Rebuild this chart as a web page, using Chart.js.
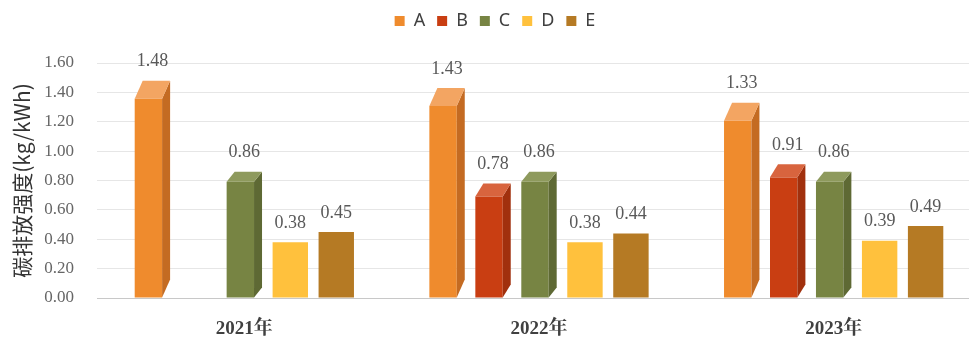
<!DOCTYPE html>
<html>
<head>
<meta charset="utf-8">
<script src="https://cdn.jsdelivr.net/npm/chart.js@4.4.1/dist/chart.umd.min.js"></script>
<style>
    html, body { margin: 0; padding: 0; background: #fff; }
    #wrap { width: 969px; height: 338px; overflow: hidden; position: relative; }
    #chart { position: absolute; left: 0; top: 0; }
</style>
</head>
<body>
<div id="wrap"><canvas id="chart" width="990" height="338"></canvas></div>
<script>
// data
const years = ['2021年', '2022年', '2023年'];
const seriesNames = ['A', 'B', 'C', 'D', 'E'];
const valuesA = [1.48, 1.43, 1.33];
const valuesB = [null, 0.78, 0.91];
const valuesC = [0.86, 0.86, 0.86];
const valuesD = [0.38, 0.38, 0.39];
const valuesE = [0.45, 0.44, 0.49];
const yTicks = [0, 0.2, 0.4, 0.6, 0.8, 1.0, 1.2, 1.4, 1.6];

// colours: front / top / side
const palette = [
    { front: '#EF8B2D', top: '#F3A562', side: '#C46B22' },
    { front: '#C93E12', top: '#D8643E', side: '#A1300D' },
    { front: '#778443', top: '#8E9A5D', side: '#5E6934' },
    { front: '#FFC13D', top: '#FFC13D', side: '#FFC13D' },
    { front: '#B57A24', top: '#B57A24', side: '#B57A24' },
];
// 3d depth per series (D and E are drawn flat)
const depth = [
    { dx: 8, dy: 18 },
    { dx: 8, dy: 13 },
    { dx: 8, dy: 10 },
    null,
    null,
];

const allValues = [valuesA, valuesB, valuesC, valuesD, valuesE];

// extra gap under the legend
const legendGap = {
    id: 'legendGap',
    beforeInit(chart) {
        const fit = chart.legend.fit;
        chart.legend.fit = function () {
            fit.bind(chart.legend)();
            this.height += 23;
        };
    }
};

const box3d = {
    id: 'box3d',
    beforeDatasetDraw(chart, args) {
        const d = depth[args.index];
        if (!d) return;
        const ctx = chart.ctx;
        const col = palette[args.index];
        args.meta.data.forEach((el, i) => {
            if (allValues[args.index][i] == null) return;
            const { x, y, base, width } = el.getProps(['x', 'y', 'base', 'width'], true);
            const left = x - width / 2;
            const right = left + width - d.dx;
            // front
            ctx.fillStyle = col.front;
            ctx.fillRect(left, y + d.dy, right - left, base - y - d.dy);
            // side
            ctx.fillStyle = col.side;
            ctx.beginPath();
            ctx.moveTo(right, base);
            ctx.lineTo(right + d.dx, base - d.dy);
            ctx.lineTo(right + d.dx, y);
            ctx.lineTo(right, y + d.dy);
            ctx.closePath();
            ctx.fill();
            // top
            ctx.fillStyle = col.top;
            ctx.beginPath();
            ctx.moveTo(left, y + d.dy);
            ctx.lineTo(left + d.dx, y);
            ctx.lineTo(right + d.dx, y);
            ctx.lineTo(right, y + d.dy);
            ctx.closePath();
            ctx.fill();
        });
        return false; // skip normal bar draw
    },
    afterDatasetsDraw(chart) {
        const ctx = chart.ctx;
        ctx.save();
        ctx.font = '18px "Liberation Serif", "Times New Roman", serif';
        ctx.fillStyle = '#595959';
        ctx.textAlign = 'center';
        ctx.textBaseline = 'middle';
        chart.data.datasets.forEach((ds, di) => {
            const meta = chart.getDatasetMeta(di);
            meta.data.forEach((el, i) => {
                const v = allValues[di][i];
                if (v == null) return;
                ctx.fillText(v.toFixed(2), el.x, el.y - 19);
            });
        });
        ctx.restore();
    }
};

new Chart(document.getElementById('chart'), {
    type: 'bar',
    data: {
        labels: years,
        datasets: seriesNames.map((name, i) => ({
            label: name,
            data: allValues[i],
            backgroundColor: palette[i].front,
            borderWidth: 0,
            categoryPercentage: 0.78,
            barPercentage: 0.77,
        })),
    },
    options: {
        responsive: false,
        animation: false,
        layout: { padding: { left: 9, right: 9, top: 0, bottom: 0 } },
        plugins: {
            legend: {
                position: 'top',
                labels: {
                    boxWidth: 10,
                    boxHeight: 10,
                    padding: 12,
                    color: '#404040',
                    font: { family: '"Noto Sans", "Liberation Sans", sans-serif', size: 18 },
                },
            },
            tooltip: { enabled: false },
        },
        scales: {
            x: {
                grid: { display: false, drawTicks: false },
                border: { display: false },
                afterFit(axis) { axis.height = 40; },
                ticks: {
                    padding: 20,
                    color: '#404040',
                    font: { family: '"Liberation Serif", "Noto Serif CJK SC", serif', size: 19, weight: 'bold' },
                },
            },
            y: {
                min: 0,
                max: 1.6,
                afterBuildTicks(axis) {
                    axis.ticks = yTicks.map(v => ({ value: v }));
                },
                afterFit(axis) { axis.width = 88; },
                grid: {
                    drawTicks: false,
                    color: ctx => ctx.tick && ctx.tick.value === 0 ? '#C8C8C8' : '#E6E6E6',
                },
                border: { display: false },
                ticks: {
                    padding: 23,
                    color: '#666666',
                    font: { family: '"Liberation Serif", "Times New Roman", serif', size: 17 },
                    callback: v => Number(v).toFixed(2),
                },
                title: {
                    display: true,
                    text: '碳排放强度(kg/kWh)',
                    color: '#333333',
                    padding: 0,
                    font: { family: '"Noto Sans CJK SC", sans-serif', size: 21 },
                },
            },
        },
    },
    plugins: [box3d, legendGap],
});
</script>
</body>
</html>
